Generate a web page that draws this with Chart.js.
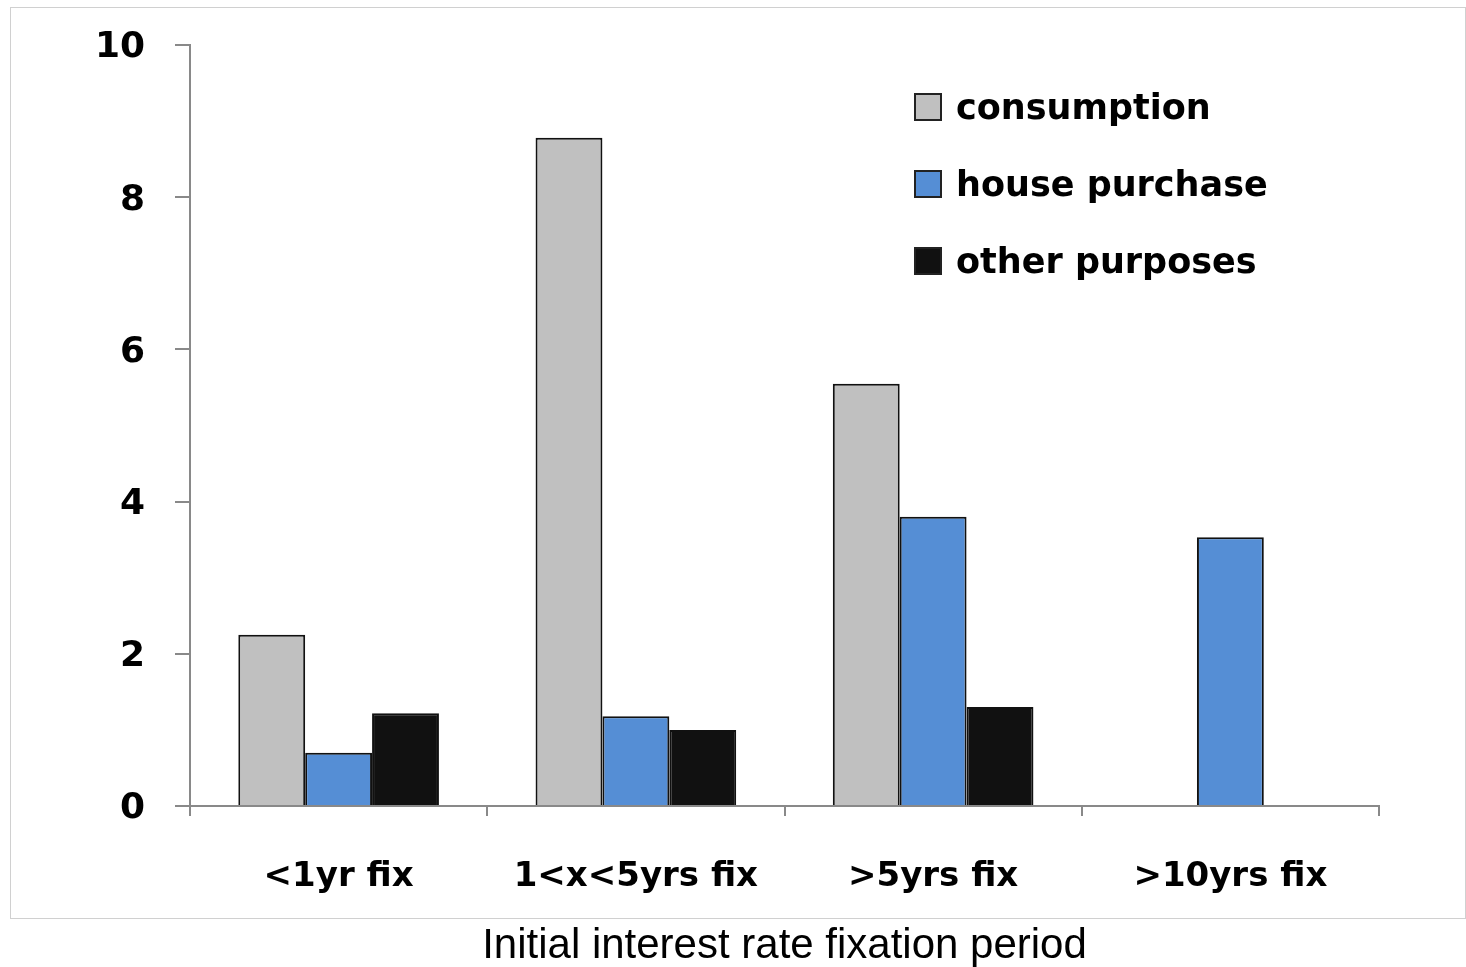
<!DOCTYPE html>
<html>
<head>
<meta charset="utf-8">
<script src="https://cdn.jsdelivr.net/npm/chart.js@4"></script>
<style>
  html, body { margin: 0; padding: 0; background: #fff; }
  #wrap { width: 1466px; height: 967px; }
</style>
</head>
<body>
<div id="wrap"><canvas id="chart"></canvas></div>
<script>
const categories = ['<1yr fix', '1<x<5yrs fix', '>5yrs fix', '>10yrs fix'];
const consumption = [2.25, 8.78, 5.55, null];
const housePurchase = [0.70, 1.18, 3.80, 3.53];
const otherPurposes = [1.22, 1.00, 1.30, null];
const yTicks = [0, 2, 4, 6, 8, 10];

// light frame around the plot region
const framePlugin = {
  id: 'frame',
  beforeDraw(chart) {
    const ctx = chart.ctx;
    ctx.save();
    ctx.strokeStyle = '#d0d0d0';
    ctx.lineWidth = 1;
    ctx.strokeRect(10.5, 7.5, 1455, 911);
    ctx.restore();
  }
};

// legend drawn inside the chart area
const innerLegend = {
  id: 'innerLegend',
  afterDraw(chart) {
    const ctx = chart.ctx;
    ctx.save();
    ctx.font = 'bold 35px "DejaVu Sans"';
    ctx.textBaseline = 'middle';
    chart.data.datasets.forEach((ds, i) => {
      const y = 107 + i * 77;
      ctx.fillStyle = ds.backgroundColor;
      ctx.fillRect(915, y - 13, 26, 26);
      ctx.strokeStyle = '#222';
      ctx.lineWidth = 2;
      ctx.strokeRect(915, y - 13, 26, 26);
      ctx.fillStyle = '#000';
      ctx.fillText(ds.label, 956, y + 3);
    });
    ctx.restore();
  }
};

new Chart(document.getElementById('chart'), {
  type: 'bar',
  data: {
    labels: categories,
    datasets: [
      { label: 'consumption', data: consumption, backgroundColor: '#c0c0c0' },
      { label: 'house purchase', data: housePurchase, backgroundColor: '#558ed5' },
      { label: 'other purposes', data: otherPurposes, backgroundColor: '#111111' }
    ]
  },
  options: {
    responsive: true,
    maintainAspectRatio: false,
    animation: false,
    datasets: {
      bar: {
        categoryPercentage: 0.675,
        barPercentage: 1.0,
        borderColor: '#111',
        borderWidth: 2
      }
    },
    layout: { padding: { left: 0, right: 87, top: 45, bottom: 0 } },
    plugins: {
      legend: { display: false },
      tooltip: { enabled: false }
    },
    scales: {
      x: {
        grid: { display: true, drawOnChartArea: false, offset: true, tickLength: 10, color: '#898989', lineWidth: 2 },
        border: { color: '#898989', width: 2 },
        ticks: { color: '#000', font: { family: 'DejaVu Sans', size: 34, weight: 'bold' }, padding: 41 },
        title: {
          display: true,
          text: 'Initial interest rate fixation period',
          color: '#000',
          font: { family: 'Liberation Sans', size: 42, lineHeight: 1 },
          padding: 0
        },
        afterFit(scale) { scale.height = 161; }
      },
      y: {
        min: 0,
        max: 10,
        afterBuildTicks(scale) { scale.ticks = yTicks.map(v => ({ value: v })); },
        grid: { display: true, drawOnChartArea: false, tickLength: 15, color: '#898989', lineWidth: 2 },
        border: { color: '#898989', width: 2 },
        ticks: { color: '#000', font: { family: 'DejaVu Sans', size: 36, weight: 'bold' }, padding: 30, labelOffset: 3 },
        afterFit(scale) {
          scale.width = 190;
          scale.paddingTop = 0;
          scale.paddingBottom = 0;
        }
      }
    }
  },
  plugins: [framePlugin, innerLegend]
});
</script>
</body>
</html>
